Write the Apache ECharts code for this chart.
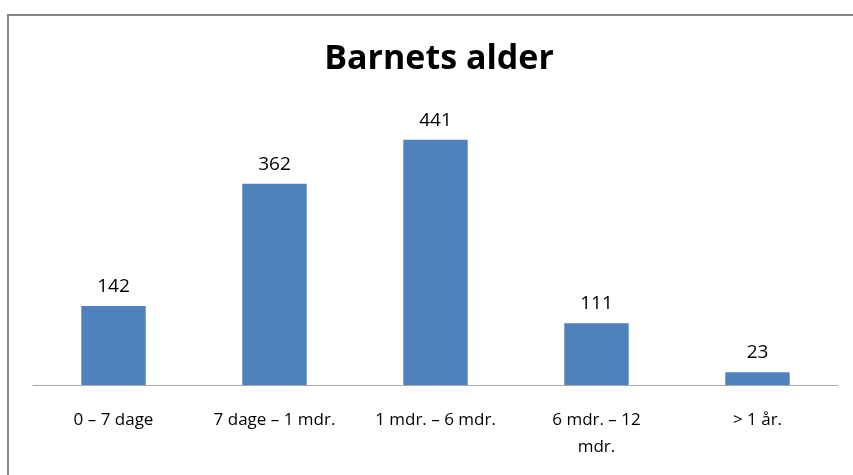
<!DOCTYPE html>
<html><head><meta charset="utf-8">
<script src="https://cdn.jsdelivr.net/npm/echarts@6/dist/echarts.min.js"></script>
<style>html,body{margin:0;padding:0;background:#fff}#c{width:853px;height:475px}</style>
</head><body><div id="c"></div>
<script>
const categories = ['0 – 7 dage', '7 dage – 1 mdr.', '1 mdr. – 6 mdr.', '6 mdr. – 12\nmdr.', '> 1 år.'];
const values = [142, 362, 441, 111, 23];
const titleText = 'Barnets alder';

const chart = echarts.init(document.getElementById('c'));
chart.setOption({
  backgroundColor: '#fff',
  animation: false,
  title: {
    text: titleText, left: 434, top: 37, textAlign: 'center',
    textStyle: { fontFamily: 'Open Sans', fontWeight: 'bold', fontSize: 34, color: '#000' }
  },
  graphic: [{
    type: 'rect', shape: { x: 8, y: 15, width: 900, height: 500 },
    style: { fill: 'none', stroke: '#878787', lineWidth: 2 }, z: 10
  }],
  grid: { left: 33, right: 15, top: 107, bottom: 90, containLabel: false },
  xAxis: {
    type: 'category', data: categories,
    axisLine: { lineStyle: { color: '#aaaaaa', width: 1 } },
    axisTick: { show: false },
    axisLabel: { color: '#000', fontFamily: 'Open Sans', fontSize: 17, margin: 22, interval: 0, lineHeight: 27 }
  },
  yAxis: { type: 'value', min: 0, max: 500, show: false, splitLine: { show: false } },
  series: [{
    type: 'bar', data: values, barWidth: '40%',
    itemStyle: { color: '#4F81BD' },
    label: { show: true, position: 'top', distance: 10, color: '#000', fontFamily: 'Open Sans', fontSize: 19 }
  }]
});
</script></body></html>
